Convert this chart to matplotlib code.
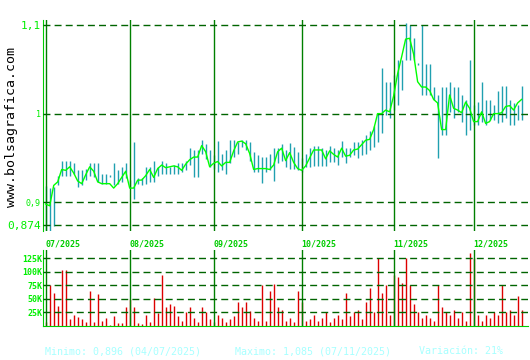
import numpy as np
import matplotlib
matplotlib.use('Agg')
import matplotlib.pyplot as plt

# Daily closes, 03/07/2025 .. 17/12/2025
closes = [0.898, 0.896, 0.919, 0.923, 0.937, 0.936, 0.940, 0.933, 0.924, 0.921,
          0.931, 0.940, 0.935, 0.923, 0.921, 0.921, 0.921, 0.916, 0.921, 0.928,
          0.935, 0.916, 0.916, 0.925, 0.925, 0.930, 0.937, 0.928, 0.938, 0.942,
          0.939, 0.940, 0.941, 0.940, 0.936, 0.943, 0.948, 0.951, 0.951, 0.964,
          0.957, 0.940, 0.944, 0.946, 0.941, 0.945, 0.945, 0.958, 0.968, 0.969,
          0.966, 0.955, 0.937, 0.938, 0.938, 0.938, 0.937, 0.942, 0.957, 0.961,
          0.947, 0.956, 0.945, 0.938, 0.936, 0.941, 0.950, 0.959, 0.959, 0.959,
          0.949, 0.958, 0.954, 0.951, 0.961, 0.952, 0.953, 0.959, 0.960, 0.965,
          0.970, 0.971, 0.982, 1.000, 1.000, 1.004, 1.002, 1.020, 1.045, 1.064,
          1.084, 1.085, 1.067, 1.036, 1.030, 1.030, 1.026, 1.016, 1.012, 0.982,
          0.982, 1.021, 1.006, 1.004, 1.001, 1.013, 1.006, 0.991, 0.991, 1.002,
          0.989, 0.991, 1.000, 1.000, 1.001, 1.008, 1.009, 1.004, 1.012, 1.016]

highs = [0.918, 0.916, 0.917, 0.930, 0.946, 0.946, 0.946, 0.944, 0.936, 0.936,
         0.938, 0.944, 0.944, 0.944, 0.932, 0.932, 0.931, 0.944, 0.936, 0.940,
         0.944, 0.925, 0.968, 0.927, 0.927, 0.940, 0.940, 0.946, 0.940, 0.946,
         0.944, 0.940, 0.942, 0.944, 0.944, 0.947, 0.961, 0.959, 0.959, 0.970,
         0.966, 0.959, 0.953, 0.969, 0.955, 0.959, 0.970, 0.970, 0.968, 0.970,
         0.970, 0.968, 0.957, 0.953, 0.951, 0.951, 0.955, 0.961, 0.961, 0.966,
         0.959, 0.967, 0.962, 0.957, 0.950, 0.955, 0.961, 0.964, 0.964, 0.961,
         0.959, 0.964, 0.961, 0.959, 0.969, 0.961, 0.961, 0.968, 0.968, 0.970,
         0.976, 0.980, 0.986, 1.001, 1.051, 1.036, 1.036, 1.044, 1.060, 1.060,
         1.102, 1.100, 1.085, 1.057, 1.100, 1.056, 1.056, 1.030, 1.021, 1.030,
         1.030, 1.036, 1.030, 1.030, 1.021, 1.015, 1.060, 1.010, 1.013, 1.036,
         1.015, 1.015, 1.010, 1.025, 1.031, 1.031, 1.015, 1.012, 1.010, 1.031]

lows = [0.865, 0.865, 0.873, 0.919, 0.930, 0.930, 0.930, 0.932, 0.917, 0.919,
        0.925, 0.930, 0.929, 0.923, 0.921, 0.921, 0.929, 0.919, 0.921, 0.923,
        0.927, 0.917, 0.904, 0.921, 0.919, 0.921, 0.923, 0.923, 0.930, 0.932,
        0.932, 0.932, 0.932, 0.932, 0.934, 0.936, 0.942, 0.929, 0.929, 0.955,
        0.949, 0.940, 0.938, 0.934, 0.936, 0.932, 0.944, 0.951, 0.955, 0.962,
        0.959, 0.947, 0.934, 0.934, 0.922, 0.934, 0.936, 0.924, 0.944, 0.947,
        0.940, 0.938, 0.938, 0.936, 0.934, 0.940, 0.940, 0.941, 0.941, 0.941,
        0.941, 0.945, 0.945, 0.942, 0.951, 0.944, 0.951, 0.953, 0.950, 0.953,
        0.955, 0.959, 0.962, 0.968, 0.978, 0.998, 0.995, 1.004, 1.010, 1.027,
        1.060, 1.060, 1.060, 1.055, 1.021, 1.021, 1.021, 1.015, 0.950, 0.976,
        0.976, 1.002, 0.995, 1.002, 0.991, 0.976, 0.981, 0.987, 0.987, 0.991,
        0.987, 0.993, 0.993, 0.989, 0.990, 0.995, 0.987, 0.987, 0.993, 0.993]

# volume in thousands of shares
volumes_k = [7, 75, 60, 36, 103, 103, 13, 21, 16, 12,
             8, 64, 7, 59, 10, 15, 1, 18, 5, 5,
             35, 49, 35, 5, 3, 20, 7, 51, 24, 94,
             35, 40, 36, 18, 10, 25, 35, 15, 8, 35,
             25, 12, 8, 20, 15, 8, 12, 18, 45, 35,
             45, 28, 15, 10, 75, 10, 65, 78, 35, 30,
             10, 15, 8, 65, 45, 10, 12, 20, 10, 15,
             25, 8, 15, 20, 12, 60, 18, 25, 30, 12,
             45, 70, 25, 125, 60, 75, 20, 95, 90, 80,
             125, 75, 40, 25, 15, 20, 15, 10, 75, 35,
             25, 20, 30, 15, 25, 10, 135, 125, 20, 10,
             20, 15, 25, 20, 75, 25, 30, 20, 55, 30]

month_idx = [0, 21, 42, 64, 87, 107]
month_labels = ['07/2025', '08/2025', '09/2025', '10/2025', '11/2025', '12/2025']
price_ticks = [0.874, 0.9, 1.0, 1.1]
price_tick_labels = ['0,874', '0,9', '1', '1,1']
price_label_sizes = [8, 6, 6, 8]
vol_ticks = [25, 50, 75, 100, 125]
vol_tick_labels = ['25K', '50K', '75K', '100K', '125K']

mono = 'DejaVu Sans Mono'
grid_dash = (0, (5, 3))

fig = plt.figure(figsize=(5.3, 3.6), dpi=100)
ax = fig.add_axes([43 / 530, 1 - 231 / 360, 485 / 530, 211 / 360])
axv = fig.add_axes([43 / 530, 1 - 326 / 360, 485 / 530, 76 / 360])

days = np.arange(len(closes))

# price panel
ax.vlines(days, lows, highs, color='#20a0b0', lw=1, zorder=2)
ax.plot(days, closes, color='#00ff00', lw=1.0, zorder=3)
ax.set_xlim(-0.675, 120.6)
ax.set_ylim(0.8676, 1.1056)
ax.set_axisbelow(False)
ax.set_yticks(price_ticks, price_tick_labels)
for lbl, fs in zip(ax.get_yticklabels(), price_label_sizes):
    lbl.set_fontsize(fs)
    lbl.set_family(mono)
    lbl.set_color('#00ee00')
ax.set_xticks(month_idx, month_labels)
for lbl in ax.get_xticklabels():
    lbl.set_ha('left')
    lbl.set_family(mono)
    lbl.set_fontsize(6)
    lbl.set_fontweight('bold')
    lbl.set_color('#00cc00')
ax.tick_params(axis='both', length=0)
ax.tick_params(axis='y', pad=1.5)
ax.tick_params(axis='x', pad=6)
ax.yaxis.grid(True, color='#006400', ls=grid_dash, lw=1)
ax.xaxis.grid(True, color='#008000', ls='-', lw=1)
for s in ['top', 'right', 'bottom']:
    ax.spines[s].set_visible(False)
ax.spines['left'].set_color('#00cc00')

# volume panel
axv.vlines(days, 0, volumes_k, color='#dd0000', lw=1, zorder=2)
axv.set_xlim(-0.675, 120.6)
axv.set_ylim(0, 140.3)
axv.set_axisbelow(False)
axv.set_yticks(vol_ticks, vol_tick_labels)
for lbl in axv.get_yticklabels():
    lbl.set_family(mono)
    lbl.set_fontsize(6)
    lbl.set_fontweight('bold')
    lbl.set_color('#00ee00')
axv.set_xticks(month_idx, [''] * len(month_idx))
axv.tick_params(axis='both', length=0, pad=0.5)
axv.yaxis.grid(True, color='#006400', ls=grid_dash, lw=1)
axv.xaxis.grid(True, color='#008000', ls='-', lw=1)
for s in ['top', 'right']:
    axv.spines[s].set_visible(False)
axv.spines['left'].set_color('#00cc00')
axv.spines['bottom'].set_color('#00cc00')

fig.text(12 / 530, 1 - 127 / 360, 'www.bolsagrafica.com', rotation=90,
         ha='center', va='center', family=mono, fontsize=9.5, color='black')

foot = dict(color='#a8ffff', fontsize=7.2, family=mono, va='center')
fig.text(45 / 530, 1 - 351 / 360, 'Minimo: 0,896 (04/07/2025)', **foot)
fig.text(235 / 530, 1 - 351 / 360, 'Maximo: 1,085 (07/11/2025)', **foot)
fig.text(419 / 530, 1 - 351 / 360, 'Variación: 21%', **foot)

fig.savefig('out.png', dpi=100)
